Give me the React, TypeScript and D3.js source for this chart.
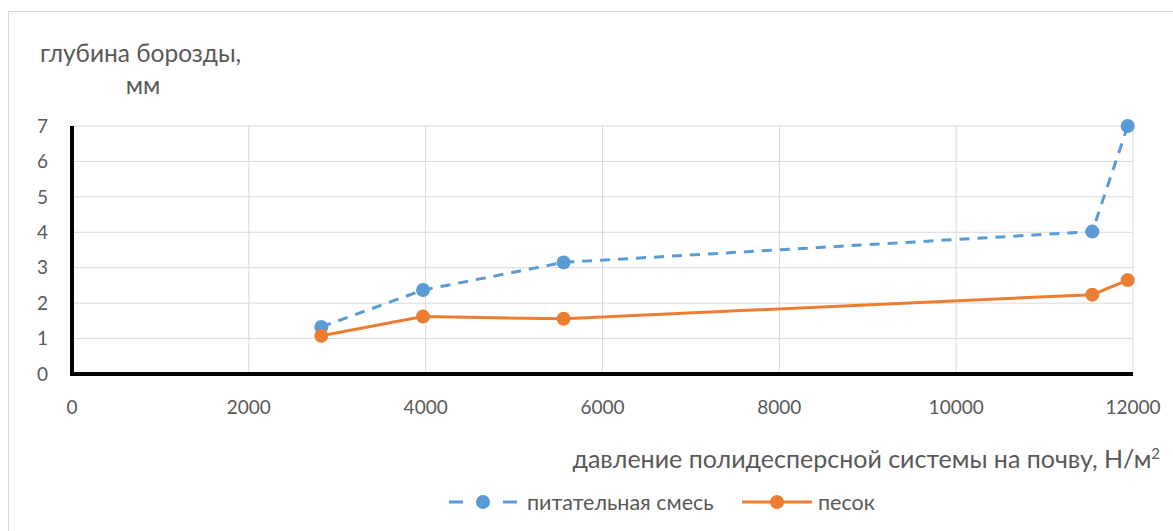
import { scaleLinear, line as d3Line } from "d3";

const pressure = [2820, 3970, 5560, 11540, 11940];
const nutrientMix = [1.33, 2.37, 3.15, 4.02, 7.0];
const sand = [1.08, 1.62, 1.56, 2.24, 2.65];
const xTicks = [0, 2000, 4000, 6000, 8000, 10000, 12000];
const yTicks = [0, 1, 2, 3, 4, 5, 6, 7];
const seriesNames = ["питательная смесь", "песок"];

const blue = "#5b9bd5";
const orange = "#ed7d31";
const font = "Lato, 'Open Sans', sans-serif";

export default function App() {
  const x = scaleLinear().domain([0, 12000]).range([72, 1133]);
  const y = scaleLinear().domain([0, 7]).range([374, 126]);

  const pts = (vals: number[]) => pressure.map((p, i) => [p, vals[i]] as [number, number]);
  const lineGen = d3Line<[number, number]>()
    .x((d) => x(d[0]))
    .y((d) => y(d[1]));

  return (
    <svg
      width={1173}
      height={531}
      style={{ position: "absolute", left: 0, top: 0, background: "#fff" }}
      fontFamily={font}
    >
      <rect x={8.5} y={11.5} width={1180} height={530} fill="#fff" stroke="#d9d9d9" />

      {yTicks.slice(1).map((t) => (
        <line key={`yg-${t}`} x1={x(0)} x2={x(12000)} y1={y(t)} y2={y(t)} stroke="#d9d9d9" strokeWidth={1} />
      ))}
      {xTicks.slice(1).map((t) => (
        <line key={`xg-${t}`} x1={x(t)} x2={x(t)} y1={y(7)} y2={y(0)} stroke="#d9d9d9" strokeWidth={1} />
      ))}

      <line x1={x(0)} x2={x(0)} y1={y(7)} y2={y(0) + 2} stroke="#000" strokeWidth={4} />
      <line x1={x(0) - 2} x2={x(12000)} y1={y(0)} y2={y(0)} stroke="#000" strokeWidth={4} />

      {yTicks.map((t) => (
        <text key={`yl-${t}`} x={48} y={y(t)} dy="0.35em" textAnchor="end" fontSize={19} fill="#595959">
          {t}
        </text>
      ))}
      {xTicks.map((t) => (
        <text key={`xl-${t}`} x={x(t)} y={414} textAnchor="middle" fontSize={19} fill="#595959">
          {t}
        </text>
      ))}

      <text x={40} y={62} fontSize={24.5} fill="#595959">глубина борозды,</text>
      <text x={143} y={94} fontSize={24.5} fill="#595959" textAnchor="middle">мм</text>
      <text x={1160} y={468} fontSize={25} fill="#595959" textAnchor="end">
        давление полидесперсной системы на почву, Н/м<tspan dy={-9} fontSize={15}>2</tspan>
      </text>

      <path d={lineGen(pts(sand)) ?? ""} fill="none" stroke={orange} strokeWidth={3} />
      <path d={lineGen(pts(nutrientMix)) ?? ""} fill="none" stroke={blue} strokeWidth={3} strokeDasharray="10 8" />
      {pts(nutrientMix).map((d, i) => (
        <circle key={`b-${i}`} cx={x(d[0])} cy={y(d[1])} r={7} fill={blue} />
      ))}
      {pts(sand).map((d, i) => (
        <circle key={`o-${i}`} cx={x(d[0])} cy={y(d[1])} r={7} fill={orange} />
      ))}

      <g transform="translate(449,502)">
        <line x1={0} x2={68} y1={0} y2={0} stroke={blue} strokeWidth={3} strokeDasharray="14 40" />
        <circle cx={34} cy={0} r={7} fill={blue} />
        <text x={78} y={0} dy="0.35em" fontSize={21.5} fill="#595959">{seriesNames[0]}</text>
      </g>
      <g transform="translate(742,502)">
        <line x1={0} x2={70} y1={0} y2={0} stroke={orange} strokeWidth={3} />
        <circle cx={35} cy={0} r={7} fill={orange} />
        <text x={76} y={0} dy="0.35em" fontSize={21.5} fill="#595959">{seriesNames[1]}</text>
      </g>
    </svg>
  );
}
